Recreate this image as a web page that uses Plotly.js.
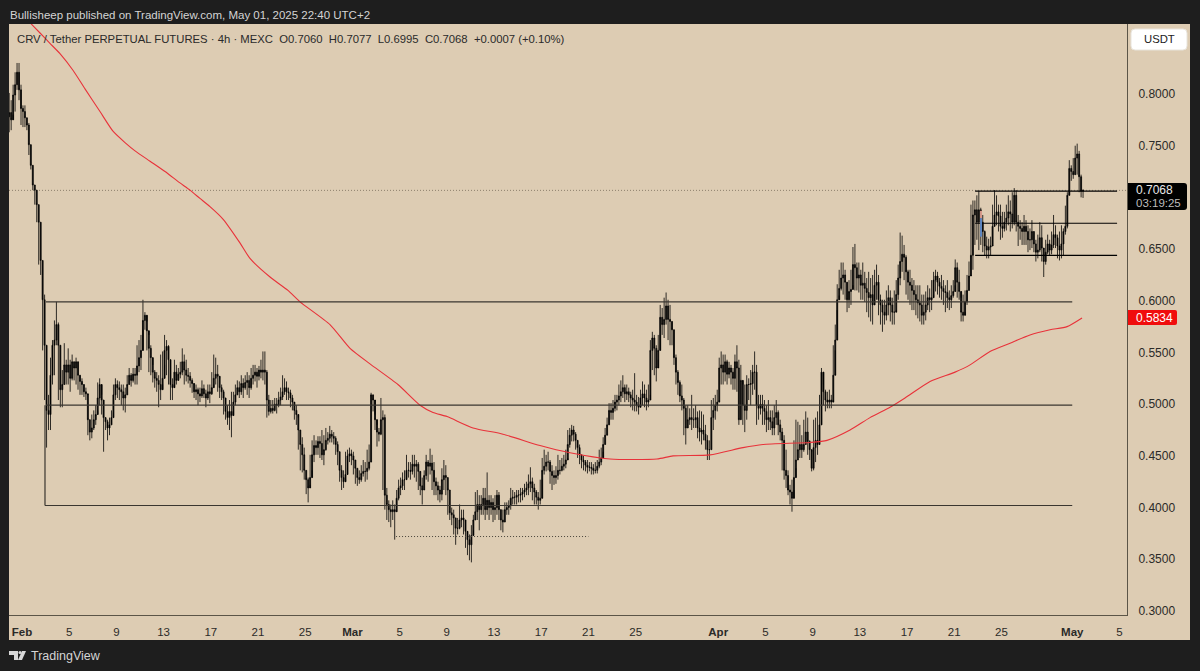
<!DOCTYPE html>
<html><head><meta charset="utf-8">
<script src="https://cdn.plot.ly/plotly-3.0.1.min.js"></script>
<style>html,body{margin:0;padding:0;background:#1e1e1e}</style></head>
<body><div id="chart" style="width:1200px;height:671px"></div>
<script>
// 4h candles, first bar Jan 30 22:00, each row is five days
const closes = [
.782,.775,.799,.809,.821,.804,.786,.783,.777,.770,.751,.731,.712,.707,.693,.676,.639,.601,.557,.494,.490,.528,.557,.562,.577,.557,.514,.519,.538,.531,
.538,.525,.541,.535,.541,.528,.522,.519,.512,.510,.485,.473,.477,.485,.490,.506,.519,.504,.487,.483,.477,.480,.487,.509,.519,.516,.514,.512,.506,.509,
.519,.528,.523,.529,.528,.537,.545,.552,.581,.586,.571,.554,.545,.531,.525,.523,.519,.514,.525,.552,.556,.543,.519,.516,.531,.523,.529,.531,.541,.533,
.528,.527,.523,.520,.512,.514,.510,.508,.515,.510,.506,.512,.510,.516,.525,.529,.527,.516,.512,.506,.493,.487,.493,.489,.502,.509,.516,.512,.520,.516,
.521,.523,.516,.525,.528,.531,.527,.533,.531,.533,.531,.504,.493,.496,.494,.500,.499,.504,.507,.512,.516,.512,.511,.506,.502,.494,.490,.475,.461,.451,
.436,.427,.419,.429,.451,.460,.458,.464,.462,.451,.456,.465,.467,.471,.469,.467,.461,.454,.436,.429,.425,.432,.450,.452,.450,.446,.438,.429,.427,.433,
.435,.435,.438,.444,.509,.504,.485,.473,.471,.485,.487,.412,.403,.398,.396,.398,.396,.409,.419,.421,.427,.427,.436,.436,.435,.442,.440,.442,.435,.421,
.417,.431,.444,.440,.443,.436,.425,.421,.417,.413,.427,.431,.429,.417,.395,.393,.390,.380,.380,.388,.390,.388,.377,.369,.364,.373,.388,.396,.403,.398,
.403,.409,.398,.407,.400,.405,.398,.400,.412,.398,.388,.386,.398,.400,.402,.409,.410,.410,.412,.412,.413,.415,.417,.419,.423,.425,.419,.415,.410,.407,
.409,.436,.440,.444,.444,.435,.431,.429,.431,.436,.436,.440,.442,.446,.461,.470,.475,.471,.465,.458,.451,.446,.444,.441,.439,.439,.438,.436,.436,.440,
.444,.448,.461,.470,.480,.494,.492,.496,.502,.504,.508,.512,.516,.510,.512,.509,.506,.504,.502,.499,.497,.506,.510,.506,.502,.504,.552,.564,.554,.535,
.552,.584,.577,.582,.595,.582,.580,.572,.545,.531,.521,.508,.504,.496,.477,.485,.487,.485,.485,.487,.477,.473,.475,.471,.465,.456,.456,.487,.494,.499,
.502,.535,.538,.531,.541,.529,.535,.531,.525,.541,.535,.485,.523,.499,.494,.519,.519,.520,.531,.531,.499,.496,.500,.496,.493,.485,.487,.483,.477,.487,
.492,.480,.473,.465,.436,.431,.417,.415,.409,.429,.446,.456,.461,.456,.461,.473,.464,.456,.438,.458,.465,.461,.480,.531,.512,.504,.502,.504,.502,.528,
.562,.601,.612,.622,.625,.618,.601,.609,.611,.635,.632,.622,.625,.615,.617,.612,.608,.603,.606,.596,.615,.618,.601,.596,.589,.586,.596,.603,.596,.589,
.589,.606,.622,.638,.645,.642,.628,.618,.615,.610,.606,.601,.598,.596,.586,.589,.596,.603,.601,.603,.620,.624,.618,.614,.612,.609,.608,.603,.601,.605,
.609,.632,.618,.609,.589,.586,.599,.610,.624,.644,.683,.688,.676,.688,.676,.667,.653,.649,.652,.653,.672,.683,.686,.682,.672,.670,.676,.680,.686,.684,
.676,.702,.676,.672,.670,.667,.672,.667,.659,.659,.667,.655,.647,.649,.661,.651,.638,.647,.655,.649,.654,.664,.661,.653,.649,.655,.667,.672,.702,.728,
.725,.722,.738,.742,.720,.706,.7068];
const highs = [
.801,.794,.809,.821,.830,.830,.809,.789,.789,.777,.772,.751,.731,.712,.707,.693,.676,.639,.606,.557,.509,.545,.562,.581,.599,.579,.557,.533,.559,.543,
.554,.543,.548,.541,.545,.541,.528,.525,.519,.516,.509,.485,.490,.494,.499,.521,.525,.509,.499,.487,.485,.487,.494,.519,.525,.523,.522,.519,.519,.516,
.528,.535,.530,.535,.535,.557,.562,.567,.601,.589,.580,.567,.557,.538,.533,.531,.528,.548,.551,.567,.562,.557,.533,.525,.543,.538,.535,.541,.554,.548,
.543,.535,.531,.525,.519,.519,.516,.516,.523,.519,.514,.519,.519,.531,.548,.545,.538,.525,.519,.514,.504,.499,.504,.512,.512,.519,.523,.522,.528,.525,
.528,.531,.528,.535,.538,.538,.535,.537,.543,.551,.551,.533,.509,.504,.504,.506,.506,.512,.516,.528,.525,.522,.516,.514,.509,.501,.499,.487,.475,.468,
.458,.436,.429,.451,.465,.470,.465,.469,.469,.475,.470,.477,.473,.479,.475,.473,.469,.464,.454,.441,.436,.454,.456,.458,.456,.454,.446,.438,.436,.441,
.446,.444,.456,.461,.511,.509,.490,.480,.477,.506,.494,.490,.419,.407,.403,.407,.403,.417,.427,.429,.434,.436,.451,.444,.444,.451,.451,.446,.444,.434,
.429,.436,.451,.446,.457,.451,.444,.429,.425,.421,.438,.446,.441,.429,.417,.400,.398,.390,.390,.403,.398,.398,.386,.374,.374,.383,.393,.415,.417,.412,
.412,.419,.419,.434,.412,.412,.409,.412,.417,.415,.398,.398,.405,.405,.407,.419,.417,.415,.417,.417,.419,.419,.423,.425,.432,.439,.429,.423,.417,.415,
.427,.448,.456,.451,.454,.446,.441,.436,.440,.451,.446,.448,.451,.456,.475,.477,.480,.479,.473,.465,.461,.451,.450,.446,.446,.444,.444,.442,.444,.446,
.456,.458,.468,.477,.487,.501,.501,.504,.509,.509,.519,.523,.528,.519,.519,.516,.512,.514,.530,.509,.507,.514,.522,.519,.514,.519,.562,.570,.567,.557,
.567,.596,.593,.603,.608,.601,.596,.580,.572,.548,.533,.523,.519,.506,.499,.499,.496,.509,.496,.499,.493,.494,.493,.490,.480,.470,.465,.504,.506,.509,
.514,.545,.551,.548,.548,.543,.541,.538,.535,.548,.557,.543,.538,.519,.519,.528,.525,.533,.538,.551,.538,.509,.509,.509,.504,.499,.504,.494,.494,.499,
.504,.494,.485,.477,.470,.456,.436,.422,.427,.465,.485,.483,.480,.470,.485,.493,.487,.465,.454,.485,.487,.493,.509,.535,.519,.514,.512,.514,.509,.557,
.577,.616,.630,.637,.637,.630,.618,.620,.630,.652,.655,.637,.637,.630,.637,.628,.622,.628,.622,.625,.630,.635,.625,.606,.601,.601,.610,.615,.610,.603,
.610,.620,.635,.666,.663,.654,.644,.630,.630,.622,.620,.615,.615,.615,.606,.606,.609,.615,.612,.620,.628,.630,.628,.622,.625,.620,.615,.620,.610,.615,
.620,.640,.637,.630,.603,.606,.610,.625,.638,.693,.697,.697,.702,.706,.690,.683,.668,.662,.660,.662,.693,.707,.702,.693,.693,.686,.686,.693,.702,.697,
.705,.709,.707,.683,.678,.676,.683,.678,.673,.670,.678,.667,.659,.664,.676,.673,.649,.659,.664,.659,.667,.683,.673,.664,.667,.673,.670,.692,.705,.736,
.731,.738,.750,.752,.745,.722,.7077];
const lows = [
.763,.765,.780,.783,.804,.794,.770,.768,.768,.765,.741,.727,.707,.693,.676,.635,.625,.552,.504,.458,.475,.475,.519,.528,.557,.504,.497,.497,.519,.519,
.519,.512,.523,.523,.519,.514,.509,.509,.507,.504,.470,.465,.467,.475,.480,.494,.499,.490,.454,.475,.465,.470,.480,.492,.504,.506,.504,.499,.494,.492,
.509,.519,.517,.521,.519,.519,.531,.533,.572,.572,.552,.531,.528,.521,.516,.512,.497,.504,.519,.538,.528,.519,.504,.504,.519,.519,.523,.525,.528,.519,
.522,.520,.516,.511,.506,.504,.499,.502,.506,.506,.497,.504,.501,.509,.519,.519,.512,.506,.504,.490,.485,.480,.475,.468,.493,.499,.509,.506,.509,.506,
.514,.509,.506,.514,.519,.522,.516,.523,.525,.523,.519,.487,.489,.491,.491,.493,.491,.497,.499,.504,.509,.504,.504,.497,.494,.485,.480,.456,.436,.434,
.427,.413,.405,.422,.436,.444,.451,.451,.448,.446,.441,.455,.461,.463,.463,.461,.451,.441,.425,.417,.419,.427,.438,.444,.441,.432,.423,.421,.423,.425,
.430,.425,.427,.436,.444,.493,.475,.459,.464,.470,.417,.398,.388,.386,.381,.388,.369,.397,.407,.412,.417,.417,.427,.429,.427,.432,.429,.425,.417,.412,
.403,.417,.427,.425,.432,.417,.412,.412,.407,.405,.407,.417,.412,.393,.388,.383,.374,.364,.374,.379,.381,.374,.361,.354,.349,.347,.378,.388,.388,.378,
.393,.393,.388,.393,.388,.393,.386,.388,.393,.388,.378,.376,.386,.393,.393,.398,.403,.403,.403,.405,.405,.407,.410,.412,.412,.415,.407,.403,.403,.398,
.403,.427,.432,.435,.436,.423,.417,.422,.423,.427,.432,.435,.436,.438,.448,.458,.464,.464,.456,.448,.442,.438,.436,.435,.433,.435,.432,.432,.433,.433,
.438,.441,.454,.461,.470,.480,.485,.485,.493,.494,.499,.502,.506,.502,.504,.502,.497,.494,.493,.493,.490,.499,.499,.497,.494,.497,.509,.533,.528,.522,
.543,.567,.567,.564,.577,.562,.557,.557,.538,.519,.509,.502,.494,.470,.461,.477,.480,.475,.477,.477,.467,.464,.461,.465,.456,.446,.446,.456,.475,.485,
.493,.504,.519,.519,.522,.519,.525,.519,.514,.514,.512,.480,.485,.480,.473,.485,.504,.499,.509,.514,.480,.485,.490,.480,.480,.473,.475,.475,.470,.470,
.480,.470,.465,.436,.427,.419,.412,.403,.396,.417,.438,.446,.448,.448,.454,.461,.451,.446,.435,.436,.444,.451,.470,.509,.499,.493,.496,.496,.496,.504,
.552,.591,.605,.610,.606,.601,.589,.593,.596,.615,.610,.610,.608,.601,.601,.599,.589,.584,.580,.577,.596,.601,.586,.577,.570,.577,.581,.586,.580,.577,
.577,.591,.601,.615,.628,.620,.606,.601,.596,.591,.591,.586,.583,.580,.577,.577,.581,.591,.589,.591,.606,.609,.606,.603,.601,.596,.589,.593,.591,.593,
.603,.615,.603,.601,.580,.580,.589,.596,.610,.625,.630,.654,.659,.649,.654,.647,.644,.641,.641,.644,.654,.673,.673,.667,.659,.661,.667,.668,.673,.667,
.670,.673,.667,.653,.659,.654,.654,.654,.647,.649,.651,.647,.638,.641,.647,.638,.623,.635,.645,.644,.645,.651,.651,.641,.639,.641,.644,.664,.670,.705,
.716,.718,.722,.722,.705,.700,.6995];
const firstOpen = .778;
const firstBarDay = -1.0833;   // days after Feb 1
// red moving average: day after Feb 1, price
const maDays = [.76,1.53,2.37,3.22,4.32,5.34,6.61,7.71,8.73,9.58,10.85,12.12,13.39,14.24,15.08,15.93,17.03,18.47,19.32,21.02,22.54,23.56,26.10,27.80,29.49,31.86,33.73,34.83,36.02,38.22,40.76,43.90,46.44,49.83,53.81,55.17,58.31,61.10,62.80,66.78,68.22,70.17,71.86,73.56,74.83,76.95,79.07,80.34,82.03,83.73,85.42,87.12,88.56,89.83];
const maVals = [.868,.859,.849,.839,.823,.805,.783,.764,.753,.745,.735,.725,.714,.707,.699,.691,.679,.656,.641,.623,.610,.599,.577,.554,.539,.519,.499,.492,.488,.477,.471,.460,.453,.447,.447,.450,.451,.458,.461,.463,.465,.475,.487,.497,.506,.522,.531,.538,.551,.559,.567,.572,.575,.5834];
// drawn levels
const levelPrices = [.599,.499,.402,.706,.675,.644];
const levelFrom = [2.03,2.03,1.95,81.27-.5,81.27-.5,81.27-.5];
const levelTo = [89.0,89.0,89.0,92.8,92.8,92.8];
const dottedLow = {price:.372, from:31.7, to:48.0};
const priceTicks = [.30,.35,.40,.45,.50,.55,.60,.65,.75,.80];
const timeTickDays = [0,4,8,12,16,20,24,28,32,36,40,44,48,52,59,63,67,71,75,79,83,89,93];
const timeTickText = ['<b>Feb</b>','5','9','13','17','21','25','<b>Mar</b>','5','9','13','17','21','25','<b>Apr</b>','5','9','13','17','21','25','<b>May</b>','5'];
const lastPrice = .7068, maLast = .5834;

const TAN = '#ddccb3', DARK = '#1e1e1e', INK = '#2b2a28';
const T0 = Date.UTC(2025,1,1), DAY = 86400000;
const d = v => new Date(T0 + v*DAY).toISOString();
const W = 1118, H = 591;
const px = x => (x-9)/W, py = y => 1-(y-24)/H;
const times = closes.map((_,i)=>d(firstBarDay + i/6));
const opens = closes.map((_,i)=> i ? closes[i-1] : firstOpen);

const candle = {type:'candlestick', x:times, open:opens, high:highs, low:lows, close:closes,
  increasing:{line:{color:'#000',width:.8}, fillcolor:'#000'},
  decreasing:{line:{color:'#000',width:.8}, fillcolor:'#000'},
  whiskerwidth:0, hoverinfo:'skip', showlegend:false};
candle.width = closes.map(()=>2.4*3600000);
const ma = {type:'scatter', mode:'lines', x:maDays.map(d), y:maVals, line:{color:'#e8323a',width:1.1,shape:'spline',smoothing:.6}, hoverinfo:'skip', showlegend:false, cliponaxis:true};

const hline = (i,w) => ({type:'line',xref:'x',yref:'y',x0:d(levelFrom[i]),x1:d(levelTo[i]),y0:levelPrices[i],y1:levelPrices[i],line:{color:i<3?'#3a3630':'#000',width:w},layer:'above'});
const shapes = [
 {type:'rect',xref:'paper',yref:'paper',x0:px(9),x1:px(1190),y0:py(24),y1:py(640),fillcolor:TAN,line:{width:0},layer:'below'},
 {type:'line',xref:'x',yref:'y',x0:d(-1.1),x1:d(93.64),y0:lastPrice,y1:lastPrice,line:{color:'#8d806c',width:1,dash:'1px 2px'},layer:'below'},
 hline(0,1.2),hline(1,1.2),hline(2,1.2),hline(3,1.2),hline(4,1.2),hline(5,1.2),
 {type:'line',xref:'x',yref:'y',x0:d(levelFrom[2]),x1:d(levelFrom[2]),y0:levelPrices[2],y1:levelPrices[1],line:{color:'#3a3630',width:1.2},layer:'above'},
 {type:'line',xref:'x',yref:'y',x0:d(dottedLow.from),x1:d(dottedLow.to),y0:dottedLow.price,y1:dottedLow.price,line:{color:'#4a453c',width:1,dash:'1px 2px'},layer:'above'},
 {type:'line',xref:'x',yref:'y',x0:d(81.27),x1:d(81.27),y0:.662,y1:.680,line:{color:'#5e86c0',width:2},layer:'above'},
 {type:'line',xref:'x',yref:'y',x0:d(81.27),x1:d(81.27),y0:.680,y1:.687,line:{color:'#d79a8c',width:2},layer:'above'},
 // USDT button
 {type:'path',xref:'paper',yref:'paper',fillcolor:'#ffffff',line:{color:'#e8e4dc',width:1},layer:'above',
  path:`M${px(1135)},${py(29)} L${px(1183)},${py(29)} Q${px(1187)},${py(29)} ${px(1187)},${py(33)} L${px(1187)},${py(46)} Q${px(1187)},${py(50)} ${px(1183)},${py(50)} L${px(1135)},${py(50)} Q${px(1131)},${py(50)} ${px(1131)},${py(46)} L${px(1131)},${py(33)} Q${px(1131)},${py(29)} ${px(1135)},${py(29)} Z`},
 // price labels
 {type:'path',xref:'paper',yref:'paper',fillcolor:'#000',line:{width:0},layer:'above',
  path:`M${px(1128)},${py(183)} L${px(1184)},${py(183)} Q${px(1187)},${py(183)} ${px(1187)},${py(186)} L${px(1187)},${py(207)} Q${px(1187)},${py(210)} ${px(1184)},${py(210)} L${px(1128)},${py(210)} Z`},
 {type:'path',xref:'paper',yref:'paper',fillcolor:'#f00d0d',line:{width:0},layer:'above',
  path:`M${px(1128)},${py(310)} L${px(1175)},${py(310)} Q${px(1177)},${py(310)} ${px(1177)},${py(312)} L${px(1177)},${py(323)} Q${px(1177)},${py(325)} ${px(1175)},${py(325)} L${px(1128)},${py(325)} Z`},
 // TradingView mark
 {type:'path',xref:'paper',yref:'paper',fillcolor:'#d8d8d8',line:{width:0},layer:'above',
  path:`M${px(9)},${py(651)} L${px(18)},${py(651)} L${px(18)},${py(660)} L${px(14)},${py(660)} L${px(14)},${py(655)} L${px(9)},${py(655)} Z`},
 {type:'circle',xref:'paper',yref:'paper',x0:px(18.5),x1:px(21.5),y0:py(651),y1:py(654),fillcolor:'#d8d8d8',line:{width:0},layer:'above'},
 {type:'path',xref:'paper',yref:'paper',fillcolor:'#d8d8d8',line:{width:0},layer:'above',
  path:`M${px(22)},${py(651)} L${px(26)},${py(651)} L${px(22)},${py(660)} L${px(18)},${py(660)} Z`}
];
const note = (x,y,text,size,color,extra) => Object.assign({xref:'paper',yref:'paper',x:px(x),y:py(y),text,showarrow:false,xanchor:'left',yanchor:'middle',font:{family:'Liberation Sans, Arial, sans-serif',size,color},align:'left',borderpad:0},extra||{});
const annotations = [
 note(9,15,'Bullisheep published on TradingView.com, May 01, 2025 22:40 UTC+2',11.5,'#d4d4d4'),
 note(16,39,'CRV / Tether PERPETUAL FUTURES · 4h · MEXC&nbsp;&nbsp;O0.7060&nbsp;&nbsp;H0.7077&nbsp;&nbsp;L0.6995&nbsp;&nbsp;C0.7068&nbsp;&nbsp;+0.0007 (+0.10%)',11.3,'#2a2a2a'),
 note(30,656,'TradingView',12.5,'#d4d4d4'),
 note(1159,39.5,'USDT',11.3,'#1c1c1c',{xanchor:'center'}),
 note(1135,190,lastPrice.toFixed(4),12,'#e8e8e8'),
 note(1135,203,'03:19:25',11.5,'#bdbdbd'),
 note(1135,317.5,maLast.toFixed(4),12,'#ffffff')
];
const layout = {
  width:1200,height:671,
  margin:{l:9,r:73,t:24,b:56,pad:0},
  paper_bgcolor:DARK, plot_bgcolor:TAN,
  font:{family:'Liberation Sans, Arial, sans-serif',size:12,color:INK},
  xaxis:{type:'date',range:[d(-1.1),d(93.64)],tickvals:timeTickDays.map(d),ticktext:timeTickText,tickmode:'array',
    showgrid:false,zeroline:false,showline:true,linecolor:'#5b5548',linewidth:1,ticks:'outside',ticklen:6,tickcolor:'rgba(0,0,0,0)',
    tickfont:{size:11.5,color:INK},rangeslider:{visible:false},fixedrange:true,automargin:false},
  yaxis:{side:'right',range:[.2961,.8677],tickmode:'array',tickvals:priceTicks,ticktext:priceTicks.map(v=>v.toFixed(4)),
    showgrid:false,zeroline:false,showline:true,linecolor:'#5b5548',linewidth:1,ticks:'outside',ticklen:8,tickcolor:'rgba(0,0,0,0)',
    tickfont:{size:12,color:INK},fixedrange:true,automargin:false},
  shapes,annotations,showlegend:false,dragmode:false
};
Plotly.newPlot('chart',[candle,ma],layout,{displayModeBar:false,staticPlot:true});
</script></body></html>
